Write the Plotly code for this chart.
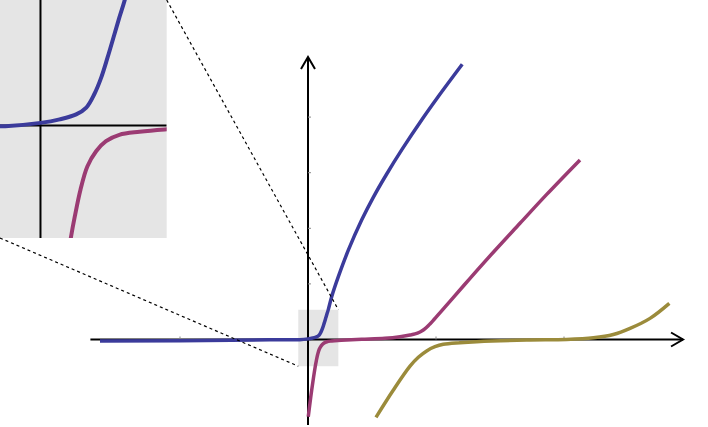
import plotly.graph_objects as go

# curve samples
blue_x = [-1.625, -1.0, -0.6, -0.3, -0.066, 0.0, 0.036, 0.067, 0.086, 0.101, 0.114, 0.126,
          0.139, 0.148, 0.158, 0.185, 0.237, 0.315, 0.42, 0.51, 0.615, 0.732, 0.888, 1.018, 1.205]
blue_y = [-0.027, -0.022, -0.012, -0.006, -0.003, 0.011, 0.026, 0.047, 0.076, 0.133, 0.204, 0.29,
          0.39, 0.46, 0.533, 0.77, 1.13, 1.606, 2.152, 2.557, 2.977, 3.41, 3.948, 4.37, 4.95]

magenta_x = [0.002, 0.029, 0.0563, 0.065, 0.075, 0.088, 0.1045, 0.123, 0.148, 0.186, 0.233, 0.3,
             0.42, 0.6, 0.719, 0.797, 0.836, 0.875, 0.901, 0.927, 0.953, 0.979, 1.044, 1.109,
             1.266, 1.448, 1.656, 1.865, 2.125]
magenta_y = [-1.39, -0.91, -0.489, -0.382, -0.275, -0.175, -0.110, -0.067, -0.040, -0.027, -0.017, -0.008,
             0.005, 0.022, 0.05, 0.081, 0.10, 0.135, 0.17, 0.22, 0.28, 0.345, 0.515, 0.685,
             1.10, 1.57, 2.09, 2.61, 3.23]

olive_x = [0.531, 0.667, 0.797, 0.862, 0.927, 0.992, 1.057, 1.1875, 1.318, 1.708, 2.02, 2.23, 2.385, 2.516, 2.672, 2.823]
olive_y = [-1.40, -0.908, -0.48, -0.32, -0.205, -0.13, -0.086, -0.057, -0.039, -0.01, 0.0, 0.03, 0.09, 0.20, 0.38, 0.65]

x_ticks = [-1, 1, 2]
y_ticks = [1, 2, 3, 4]

colors = {'blue': '#3b3b9b', 'magenta': '#9b3b73', 'olive': '#9b8b3b'}

W, H = 708, 427
X_RANGE = [-308 / 128, 400 / 128]
Y_RANGE = [-(427 - 339.5) / 55.6, 339.5 / 55.6]
ZX = [-0.076, 0.237]          # zoom box, data units
ZY = [-0.48, 0.535]
INSET_X = [0, 166.7 / W]      # inset, paper units
INSET_Y = [1 - 238 / H, 1]

px_x = (X_RANGE[1] - X_RANGE[0]) / W
px_y = (Y_RANGE[1] - Y_RANGE[0]) / H


def to_data(px, py):
    return X_RANGE[0] + px * (X_RANGE[1] - X_RANGE[0]), Y_RANGE[0] + py * (Y_RANGE[1] - Y_RANGE[0])


fig = go.Figure()
curves = [(blue_x, blue_y, 'blue'), (magenta_x, magenta_y, 'magenta'), (olive_x, olive_y, 'olive')]
for xs, ys, c in curves:
    fig.add_trace(go.Scatter(x=xs, y=ys, mode='lines', line=dict(color=colors[c], width=3.5, shape='spline', smoothing=1.0),
                             xaxis='x', yaxis='y', hoverinfo='skip'))
for xs, ys, c in curves:
    fig.add_trace(go.Scatter(x=xs, y=ys, mode='lines', line=dict(color=colors[c], width=4, shape='spline', smoothing=1.0),
                             xaxis='x2', yaxis='y2', hoverinfo='skip'))

shapes = []
# inset background and zoom box
shapes.append(dict(type='rect', xref='paper', yref='paper', x0=INSET_X[0], x1=INSET_X[1], y0=INSET_Y[0], y1=INSET_Y[1],
                   fillcolor='#e5e5e5', line=dict(width=0), layer='below'))
shapes.append(dict(type='rect', xref='x', yref='y', x0=ZX[0], x1=ZX[1], y0=ZY[0], y1=ZY[1],
                   fillcolor='#e5e5e5', line=dict(width=0), layer='below'))

# main axes
ax_end = 2.93
ay_end = 5.08
shapes.append(dict(type='line', xref='x', yref='y', x0=-1.70, x1=ax_end, y0=0, y1=0, line=dict(color='black', width=2), layer='below'))
shapes.append(dict(type='line', xref='x', yref='y', x0=0, x1=0, y0=-1.54, y1=ay_end, line=dict(color='black', width=2), layer='below'))
shapes.append(dict(type='path', xref='x', yref='y', layer='below', line=dict(color='black', width=2),
                   path=f'M {ax_end - 12 * px_x},{7 * px_y} L {ax_end},0 L {ax_end - 12 * px_x},{-7 * px_y}'))
shapes.append(dict(type='path', xref='x', yref='y', layer='below', line=dict(color='black', width=2),
                   path=f'M {-7 * px_x},{ay_end - 12 * px_y} L 0,{ay_end} L {7 * px_x},{ay_end - 12 * px_y}'))
for t in x_ticks:
    shapes.append(dict(type='line', xref='x', yref='y', x0=t, x1=t, y0=0, y1=3 * px_y, line=dict(color='#888', width=1), layer='below'))
for t in y_ticks:
    shapes.append(dict(type='line', xref='x', yref='y', x0=0, x1=3 * px_x, y0=t, y1=t, line=dict(color='#888', width=1), layer='below'))

# inset axes
shapes.append(dict(type='line', xref='x2', yref='y2', x0=ZX[0], x1=ZX[1], y0=0, y1=0, line=dict(color='black', width=2), layer='below'))
shapes.append(dict(type='line', xref='x2', yref='y2', x0=0, x1=0, y0=ZY[0], y1=ZY[1], line=dict(color='black', width=2), layer='below'))

# dotted connectors
tx, ty = to_data(INSET_X[1], INSET_Y[1])
bx, by = to_data(INSET_X[0], INSET_Y[0])
shapes.append(dict(type='line', xref='x', yref='y', x0=tx, y0=ty, x1=ZX[1], y1=ZY[1], line=dict(color='black', width=1.2, dash='dot')))
shapes.append(dict(type='line', xref='x', yref='y', x0=bx, y0=by, x1=ZX[0], y1=ZY[0], line=dict(color='black', width=1.2, dash='dot')))

fig.update_layout(
    width=W, height=H, autosize=False,
    margin=dict(l=0, r=0, t=0, b=0),
    paper_bgcolor='white', plot_bgcolor='rgba(0,0,0,0)',
    showlegend=False,
    xaxis=dict(range=X_RANGE, domain=[0, 1], visible=False, anchor='y'),
    yaxis=dict(range=Y_RANGE, domain=[0, 1], visible=False, anchor='x'),
    xaxis2=dict(range=ZX, domain=INSET_X, visible=False, anchor='y2'),
    yaxis2=dict(range=ZY, domain=INSET_Y, visible=False, anchor='x2'),
    shapes=shapes,
)

# drop the browser's default body margin so the figure sits at the window corner
fig.write_html("out.html", config={'displayModeBar': False},
               post_script="document.body.style.margin='0';")
